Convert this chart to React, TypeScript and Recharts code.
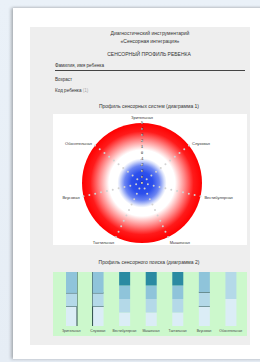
import React from 'react';
import {
  RadarChart, Radar, PolarGrid, PolarAngleAxis, PolarRadiusAxis,
  BarChart, Bar, XAxis, YAxis,
} from 'recharts';

const axes = ['Зрительная', 'Слуховая', 'Вестибулярная', 'Мышечная', 'Тактильная', 'Вкусовая', 'Обонятельная'];
const radiusTicks = [-5, -4, -3, -2, -1, 0, 1, 2, 3, 4, 5];
const dotLevels = [5, 4, 3, 2, 1, 0, -1, -2, -3, -4, -5];
const outerLevel = 5;

const seg1 = [1.45, 1.45, 1, 1, 1, 1.45, 2];
const seg2 = [1.0, 1.0, 1, 1, 1, 1.05, 2];
const seg3 = [1.55, 1.55, 1, 1, 1, 1.5, 0];
const seg4 = [0, 0, 1, 1, 1, 0, 0];
const markers = [1, 1, 0, 0, 0, 1, 0];
const sideLines = ['right', 'left', '', '', '', '', ''];

const radarData = axes.map((a) => {
  const row: any = { axis: a, bg: outerLevel };
  dotLevels.forEach((l, i) => { row['l' + i] = l; });
  return row;
});

const barData = axes.map((a, i) => ({
  name: a, s1: seg1[i], s2: seg2[i], s3: seg3[i], s4: seg4[i], mark: markers[i], side: sideLines[i],
}));

const FONT = '"Liberation Sans", Arial, sans-serif';

const BgShape = (props: any) => {
  const pts = props.points || [];
  if (!pts.length) return null;
  const p = pts[0];
  const cx = p.cx, cy = p.cy;
  const r = p.radius != null ? p.radius : Math.hypot(p.x - cx, p.y - cy);
  return (
    <g>
      <defs>
        <radialGradient id="radarBg" cx="50%" cy="50%" r="50%">
          <stop offset="0%" stopColor="#2042e6" />
          <stop offset="18%" stopColor="#2d50ec" />
          <stop offset="29%" stopColor="#6a84f2" />
          <stop offset="37%" stopColor="#d4dcfa" />
          <stop offset="41%" stopColor="#ffffff" />
          <stop offset="55%" stopColor="#ffffff" />
          <stop offset="72%" stopColor="#ff8484" />
          <stop offset="86%" stopColor="#ff1a1a" />
          <stop offset="100%" stopColor="#ff0000" />
        </radialGradient>
      </defs>
      <circle cx={cx} cy={cy} r={r} fill="url(#radarBg)" />
    </g>
  );
};

const levelLabel = (p: any) => {
  if (p.index !== 0) return null as any;
  return (
    <text x={p.x} y={p.y} dy={1.3} textAnchor="middle" fontSize={3.8} fill="#333" fontFamily={FONT}>
      {p.value}
    </text>
  );
};

const makeSeg = (color: string, withMark: boolean, withSide: boolean) => (props: any) => {
  const { x, y, width, height, payload, background } = props;
  if (!height || height <= 0) return null as any;
  return (
    <g>
      <rect x={x} y={y} width={width} height={height} fill={color} />
      {withMark && payload.mark ? (
        <line x1={x} x2={x + width} y1={y} y2={y} stroke="#2d4d4a" strokeWidth={0.9} />
      ) : null}
      {withSide && payload.side && background ? (
        <line
          x1={payload.side === 'right' ? x + width : x}
          x2={payload.side === 'right' ? x + width : x}
          y1={background.y}
          y2={background.y + background.height}
          stroke="#2d4d4a"
          strokeWidth={1}
        />
      ) : null}
    </g>
  );
};

const T = ({ x, y, children, center, size = 5, color = '#333', w }: any) => (
  <div
    style={{
      position: 'absolute',
      left: center ? x - 100 : x,
      top: y - size * 0.6,
      width: center ? 200 : w,
      textAlign: center ? 'center' : 'left',
      fontSize: size,
      lineHeight: `${size * 1.2}px`,
      color,
      fontFamily: FONT,
      whiteSpace: 'nowrap',
    }}
  >
    {children}
  </div>
);

export default function App() {
  return (
    <div style={{ position: 'fixed', left: 0, top: 0, width: 260, height: 362, overflow: 'hidden', background: 'linear-gradient(180deg,#eaf1f8,#e6edf5)' }}>
      <div style={{ position: 'absolute', left: 13, top: 8, width: 260, height: 351, background: '#ffffff', boxShadow: '-2px 0 3px rgba(0,0,0,0.25), 0 -1px 2px rgba(0,0,0,0.08)' }} />
      <div style={{ position: 'absolute', left: 30, top: 27, width: 220, height: 318, background: '#eeeeee' }} />
      <T x={150} y={33} center size={5}>Диагностический инструментарий</T>
      <T x={150} y={41} center size={5}>«Сенсорная интеграция»</T>
      <T x={149} y={54} center size={5}>СЕНСОРНЫЙ ПРОФИЛЬ РЕБЕНКА</T>
      <T x={55} y={66} size={4.6}>Фамилия, имя ребенка</T>
      <div style={{ position: 'absolute', left: 55, top: 70, width: 190, height: 1, background: '#444' }} />
      <T x={55} y={80} size={4.6}>Возраст</T>
      <T x={55} y={91} size={4.6}>Код ребенка <span style={{ color: '#aaa' }}>(1)</span></T>
      <T x={149} y={106} center size={5}>Профиль сенсорных систем (диаграмма 1)</T>
      <div style={{ position: 'absolute', left: 53, top: 114, width: 194, height: 131, background: '#ffffff' }}>
        <RadarChart width={194} height={131} data={radarData} cx={89} cy={69} outerRadius={60} margin={{ top: 0, right: 0, bottom: 0, left: 0 }}>
          <Radar dataKey="bg" shape={BgShape} isAnimationActive={false} />
          <PolarGrid gridType="polygon" stroke="#c8c8c8" strokeOpacity={0.5} strokeWidth={0.5} />
          {dotLevels.map((l, i) => (
            <Radar
              key={i}
              dataKey={'l' + i}
              stroke="none"
              fill="none"
              dot={{ r: 1.0, fill: '#d2d2d2', stroke: 'none' }}
              label={levelLabel}
              isAnimationActive={false}
            />
          ))}
          <PolarAngleAxis dataKey="axis" tickLine={false} axisLine={false} tickSize={4} tick={{ fontSize: 4, fill: '#333', fontFamily: FONT }} />
          <PolarRadiusAxis angle={90} domain={[-5, 5]} ticks={radiusTicks as any} tickCount={11} axisLine={false} tickLine={false} tick={false} />
        </RadarChart>
      </div>
      <T x={149} y={262} center size={5}>Профиль сенсорного поиска (диаграмма 2)</T>
      <div style={{ position: 'absolute', left: 53, top: 272, width: 194, height: 64, background: '#ccf8cc' }}>
        <BarChart width={194} height={64} data={barData} margin={{ top: 0, right: 3, bottom: 0, left: 5 }} barSize={11}>
          <XAxis dataKey="name" interval={0} tickLine={false} axisLine={false} height={10} tickSize={2} tick={{ fontSize: 3.4, fill: '#444', fontFamily: FONT }} />
          <YAxis hide domain={[0, 4]} />
          <Bar dataKey="s1" stackId="a" shape={makeSeg('#dbedf6', true, true)} isAnimationActive={false} />
          <Bar dataKey="s2" stackId="a" shape={makeSeg('#b4d9e8', true, false)} isAnimationActive={false} />
          <Bar dataKey="s3" stackId="a" shape={makeSeg('#8fc4da', false, false)} isAnimationActive={false} />
          <Bar dataKey="s4" stackId="a" shape={makeSeg('#2b8aa2', false, false)} isAnimationActive={false} />
        </BarChart>
      </div>
    </div>
  );
}
